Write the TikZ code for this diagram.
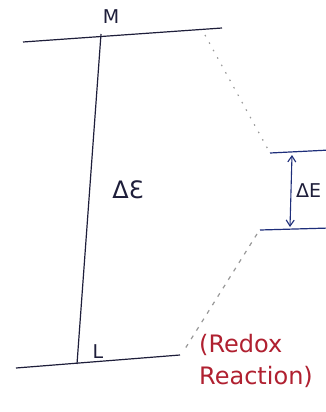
\documentclass[tikz,border=0pt]{standalone}
\usepackage{fontspec}
\setmainfont{DejaVu Sans}
\usetikzlibrary{arrows.meta}
\definecolor{ink}{HTML}{1E1E3A}
\definecolor{blueink}{HTML}{1E2E7A}
\definecolor{redink}{HTML}{B02030}
\tikzset{
  lvl/.style={draw=ink, line width=1.2pt},
  dots/.style={draw=gray!80, line width=1.2pt, dash pattern=on 1.5pt off 7pt},
  lbl/.style={text=ink, font=\fontsize{19}{19}\selectfont, inner sep=0pt},
  red/.style={text=redink, font=\fontsize{24}{32}\selectfont, inner sep=0pt, align=left}
}
\begin{document}
\begin{tikzpicture}[x=1pt,y=-1pt]
\useasboundingbox (0,0) rectangle (325,412);
\fill[white] (0,0) rectangle (325,412);
% coordinates
\coordinate (tl) at (23,42);
\coordinate (tr) at (222,28);
\coordinate (vt) at (101,34);
\coordinate (vb) at (77,364);
\coordinate (bl) at (16,368);
\coordinate (br) at (180,355);
\coordinate (ul) at (270,153);
\coordinate (ur) at (330,150);
\coordinate (ll) at (260,230);
\coordinate (lr) at (330,228);
\coordinate (d1) at (205,35);
\coordinate (d2) at (257,234);
\coordinate (d3) at (183,352);
\coordinate (at) at (292,155);
\coordinate (ab) at (290,227);
% levels
\draw[lvl] (tl) -- (tr);
\draw[lvl] (vt) -- (vb);
\draw[lvl] (bl) -- (br);
\draw[lvl, draw=blueink] (ul) -- (ur);
\draw[lvl, draw=blueink] (ll) -- (lr);
\draw[blueink, line width=1.1pt, {Straight Barb[length=6pt,width=8pt]}-{Straight Barb[length=6pt,width=8pt]}] (at) -- (ab);
% dotted connectors
\draw[dots] (d1) -- (ul);
\draw[dots, dash pattern=on 4pt off 6pt] (d2) -- (d3);
% labels
\node[lbl] (M) at (111,17) {M};
\node[lbl] (L) at (98,352) {L};
\node[lbl, font=\fontsize{24}{24}\selectfont] (dE1) at (128,190) {ΔƐ};
\node[lbl, anchor=west] (dE2) at (296,191) {ΔE};
\node[red, anchor=north west] (redox) at (199,334) {(Redox\\Reaction)};
\end{tikzpicture}
\end{document}
